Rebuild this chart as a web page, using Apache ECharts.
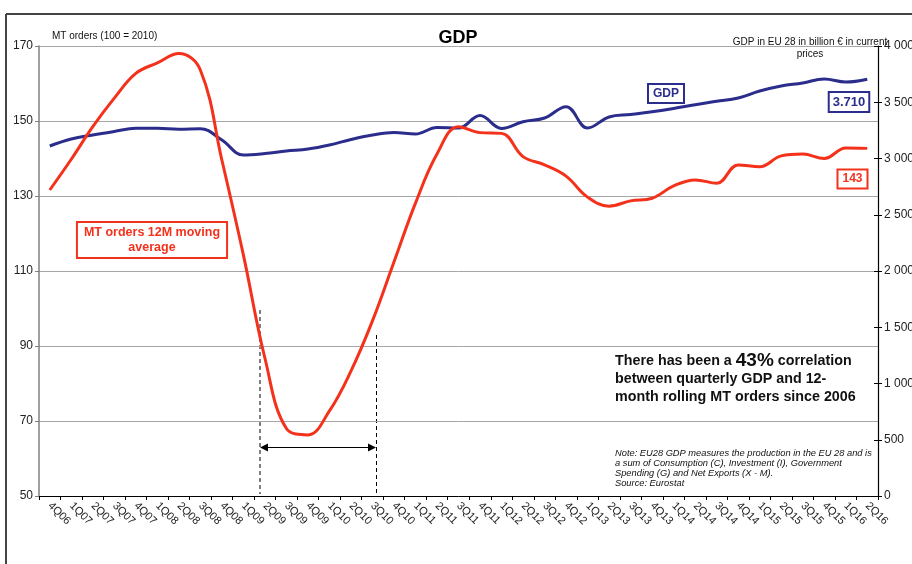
<!DOCTYPE html>
<html><head><meta charset="utf-8">
<script src="https://cdn.jsdelivr.net/npm/echarts@6/dist/echarts.min.js"></script>
<style>html,body{margin:0;padding:0;background:#fff}#c{width:912px;height:564px}</style>
</head><body><div id="c"></div><script>
const categories = ['4Q06','1Q07','2Q07','3Q07','4Q07','1Q08','2Q08','3Q08','4Q08','1Q09','2Q09','3Q09','4Q09','1Q10','2Q10','3Q10','4Q10','1Q11','2Q11','3Q11','4Q11','1Q12','2Q12','3Q12','4Q12','1Q13','2Q13','3Q13','4Q13','1Q14','2Q14','3Q14','4Q14','1Q15','2Q15','3Q15','4Q15','1Q16','2Q16'];
const mtOrders = [131.6,139.8,148.5,156.1,162.7,165.5,168.0,163.6,139.6,114.3,86.8,68.0,66.3,72.7,83.3,96.7,112.4,128.1,141.2,148.5,146.9,146.7,140.5,138.3,135.3,129.7,127.3,128.7,129.4,132.7,134.3,133.4,138.3,137.8,140.7,141.2,140.0,142.8,142.7];
const gdp = [3111,3173,3209,3240,3268,3268,3260,3265,3164,3031,3044,3067,3084,3120,3169,3209,3231,3218,3276,3271,3382,3267,3327,3360,3460,3271,3369,3391,3415,3444,3478,3508,3538,3600,3645,3671,3707,3680,3705];
const leftAxis = {min: 50, max: 170, interval: 20};
const rightAxis = {min: 0, max: 4000, interval: 500};

const RED = '#f4321c', NAVY = '#2b2d8c';
const FONT = 'Arial, "Liberation Sans", sans-serif';
const chart = echarts.init(document.getElementById('c'), null, {renderer: 'canvas'});
const fmtRight = v => v >= 1000 ? Math.floor(v / 1000) + ' ' + String(v % 1000).padStart(3, '0') : String(v);

chart.setOption({
  animation: false,
  backgroundColor: '#fff',
  textStyle: {fontFamily: FONT},
  grid: {left: 39, right: 34, top: 46, bottom: 68, containLabel: false, outerBoundsMode: 'none'},
  xAxis: {
    type: 'category', data: categories, boundaryGap: true,
    axisLine: {lineStyle: {color: '#000', width: 1}},
    axisTick: {show: true, length: 4, interval: 0, lineStyle: {color: '#000'}},
    axisLabel: {interval: 0, rotate: -45, fontSize: 11, color: '#222', margin: 8, fontFamily: FONT},
    splitLine: {show: false}
  },
  yAxis: [
    {type: 'value', position: 'left', min: leftAxis.min, max: leftAxis.max, interval: leftAxis.interval,
     axisLine: {show: true, lineStyle: {color: '#808080', width: 1.5}},
     axisTick: {show: true, length: 4, lineStyle: {color: '#808080'}},
     axisLabel: {fontSize: 12, color: '#222', margin: 6, fontFamily: FONT},
     splitLine: {show: true, lineStyle: {color: '#a6a6a6', width: 1}}},
    {type: 'value', position: 'right', min: rightAxis.min, max: rightAxis.max, interval: rightAxis.interval,
     axisLine: {show: true, lineStyle: {color: '#000', width: 1.2}},
     axisTick: {show: true, length: 4, lineStyle: {color: '#000'}},
     axisLabel: {fontSize: 12, color: '#222', margin: 6, formatter: fmtRight, fontFamily: FONT},
     splitLine: {show: false}},
    {type: 'value', position: 'right', min: rightAxis.min, max: rightAxis.max, interval: rightAxis.interval,
     axisLine: {show: false},
     axisTick: {show: true, inside: true, length: 4, lineStyle: {color: '#000'}},
     axisLabel: {show: false}, splitLine: {show: false}}
  ],
  series: [
    {name: 'GDP', type: 'line', yAxisIndex: 1, data: gdp, smooth: 0.4, showSymbol: false,
     lineStyle: {color: NAVY, width: 3}, itemStyle: {color: NAVY}, z: 3},
    {name: 'MT orders 12M moving average', type: 'line', yAxisIndex: 0, data: mtOrders, smooth: 0.4, showSymbol: false,
     lineStyle: {color: RED, width: 3}, itemStyle: {color: RED}, z: 4}
  ],
  graphic: [
    {type: 'line', shape: {x1: 6, y1: 14, x2: 912, y2: 14}, style: {stroke: '#444', lineWidth: 2}},
    {type: 'line', shape: {x1: 6, y1: 14, x2: 6, y2: 564}, style: {stroke: '#444', lineWidth: 2}},
    {type: 'text', x: 458, y: 38, style: {text: 'GDP', font: 'bold 18px ' + FONT, fill: '#000', align: 'center', verticalAlign: 'middle'}},
    {type: 'text', x: 52, y: 36, style: {text: 'MT orders (100 = 2010)', font: '10px ' + FONT, fill: '#111', align: 'left', verticalAlign: 'middle'}},
    {type: 'text', x: 810, y: 48, style: {text: 'GDP in EU 28 in billion € in current\nprices', font: '10px ' + FONT, fill: '#111', align: 'center', verticalAlign: 'middle', lineHeight: 12}},
    {type: 'text', x: 666, y: 93.5, z: 10, style: {text: 'GDP', font: 'bold 12px ' + FONT, fill: NAVY, align: 'center', verticalAlign: 'middle', borderColor: NAVY, borderWidth: 2, padding: [3, 4, 2, 4], backgroundColor: '#fff'}},
    {type: 'text', x: 849, y: 102, z: 10, style: {text: '3.710', font: 'bold 13px ' + FONT, fill: NAVY, align: 'center', verticalAlign: 'middle', borderColor: NAVY, borderWidth: 2, padding: [3, 3, 2, 3], backgroundColor: '#fff'}},
    {type: 'text', x: 852.5, y: 179, z: 10, style: {text: '143', font: 'bold 12px ' + FONT, fill: RED, align: 'center', verticalAlign: 'middle', borderColor: RED, borderWidth: 2, padding: [3, 4, 2, 4], backgroundColor: '#fff'}},
    {type: 'text', x: 152, y: 240, z: 10, style: {text: 'MT orders 12M moving\naverage', font: 'bold 12.5px ' + FONT, fill: RED, align: 'center', verticalAlign: 'middle', lineHeight: 15, borderColor: RED, borderWidth: 2, padding: [2, 6, 2, 6], backgroundColor: '#fff'}},
    {type: 'text', x: 615, y: 379, z: 10, style: {
      text: '{n|There has been a }{b|43%}{n| correlation}\n{n|between quarterly GDP and 12-}\n{n|month rolling MT orders since 2006}',
      align: 'left', verticalAlign: 'middle', fill: '#111',
      rich: {n: {font: 'bold 14.3px ' + FONT, fill: '#111', lineHeight: 18}, b: {font: 'bold 19px ' + FONT, fill: '#111', lineHeight: 18}}}},
    {type: 'text', x: 615, y: 468, z: 10, style: {
      text: 'Note: EU28 GDP measures the production in the EU 28 and is\na sum of Consumption (C), Investment (I), Government\nSpending (G) and Net Exports (X - M).\nSource: Eurostat',
      font: 'italic 9.3px ' + FONT, fill: '#111', align: 'left', verticalAlign: 'middle', lineHeight: 10}},
    {type: 'line', shape: {x1: 260, y1: 310, x2: 260, y2: 494}, style: {stroke: '#000', lineWidth: 1, lineDash: [4, 3]}},
    {type: 'line', shape: {x1: 376.5, y1: 335, x2: 376.5, y2: 494}, style: {stroke: '#000', lineWidth: 1, lineDash: [4, 3]}},
    {type: 'line', shape: {x1: 266, y1: 447.5, x2: 370, y2: 447.5}, style: {stroke: '#000', lineWidth: 1.2}},
    {type: 'polygon', shape: {points: [[260, 447.5], [268, 443.5], [268, 451.5]]}, style: {fill: '#000'}},
    {type: 'polygon', shape: {points: [[376, 447.5], [368, 443.5], [368, 451.5]]}, style: {fill: '#000'}}
  ]
});
</script></body></html>
